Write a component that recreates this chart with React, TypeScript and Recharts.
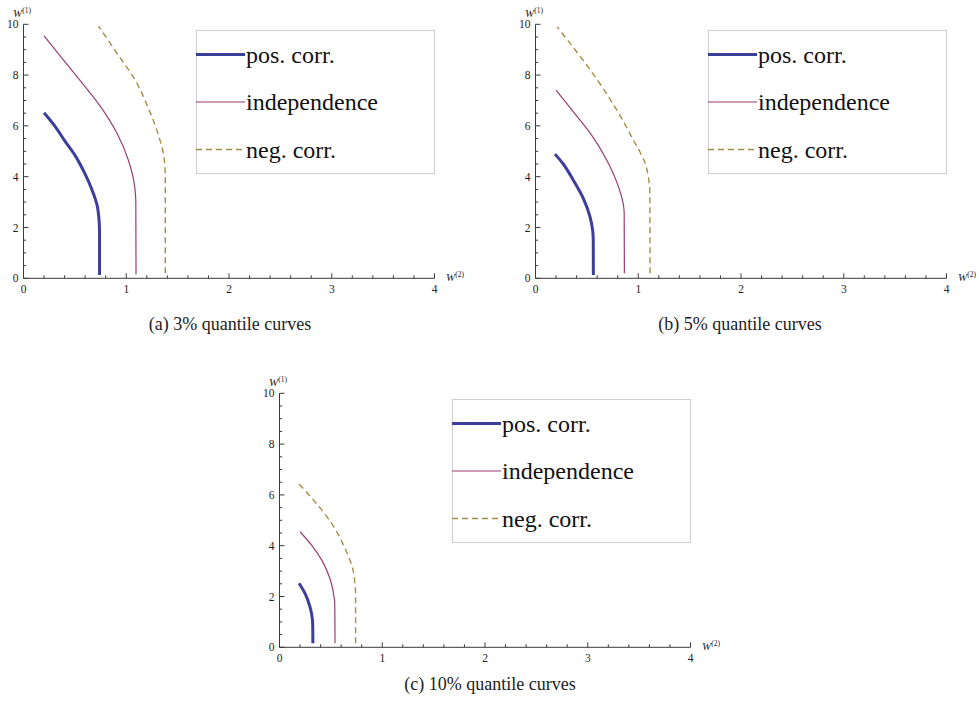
import { LineChart, Line, XAxis, YAxis, Legend } from 'recharts'

// values, ordered from the bottom of each curve upwards
const posA = [
  { x: 0.74, y: 0.13 }, { x: 0.74, y: 1.8 }, { x: 0.735, y: 2.3 }, { x: 0.715, y: 2.9 },
  { x: 0.67, y: 3.45 }, { x: 0.6, y: 4.1 }, { x: 0.5, y: 4.85 }, { x: 0.4, y: 5.42 },
  { x: 0.3, y: 6.02 }, { x: 0.2, y: 6.52 },
]
const indA = [
  { x: 1.095, y: 0.15 }, { x: 1.093, y: 3.0 }, { x: 1.085, y: 3.5 }, { x: 1.065, y: 4.0 },
  { x: 1.02, y: 4.66 }, { x: 0.91, y: 5.71 }, { x: 0.75, y: 6.76 }, { x: 0.52, y: 7.94 },
  { x: 0.36, y: 8.74 }, { x: 0.2, y: 9.54 },
]
const negA = [
  { x: 1.38, y: 0.2 }, { x: 1.38, y: 4.0 }, { x: 1.376, y: 4.4 }, { x: 1.367, y: 4.78 },
  { x: 1.313, y: 5.64 }, { x: 1.216, y: 6.69 }, { x: 1.086, y: 7.81 }, { x: 0.908, y: 8.87 },
  { x: 0.73, y: 9.93 },
]

const posB = [
  { x: 0.563, y: 0.13 }, { x: 0.562, y: 1.5 }, { x: 0.556, y: 1.9 }, { x: 0.53, y: 2.43 },
  { x: 0.465, y: 3.15 }, { x: 0.367, y: 3.87 }, { x: 0.27, y: 4.5 }, { x: 0.19, y: 4.89 },
]
const indB = [
  { x: 0.865, y: 0.2 }, { x: 0.863, y: 2.6 }, { x: 0.855, y: 2.9 }, { x: 0.807, y: 3.61 },
  { x: 0.693, y: 4.66 }, { x: 0.546, y: 5.64 }, { x: 0.367, y: 6.56 }, { x: 0.2, y: 7.41 },
]
const negB = [
  { x: 1.115, y: 0.2 }, { x: 1.113, y: 3.4 }, { x: 1.105, y: 3.8 }, { x: 1.067, y: 4.53 },
  { x: 0.953, y: 5.44 }, { x: 0.79, y: 6.63 }, { x: 0.595, y: 7.85 }, { x: 0.4, y: 8.92 },
  { x: 0.21, y: 9.9 },
]

const posC = [
  { x: 0.325, y: 0.16 }, { x: 0.323, y: 0.9 }, { x: 0.319, y: 1.14 }, { x: 0.296, y: 1.6 },
  { x: 0.247, y: 2.13 }, { x: 0.19, y: 2.52 },
]
const indC = [
  { x: 0.54, y: 0.16 }, { x: 0.538, y: 1.7 }, { x: 0.533, y: 1.93 }, { x: 0.49, y: 2.72 },
  { x: 0.41, y: 3.44 }, { x: 0.31, y: 4.03 }, { x: 0.2, y: 4.55 },
]
const negC = [
  { x: 0.741, y: 0.16 }, { x: 0.74, y: 2.2 }, { x: 0.735, y: 2.45 }, { x: 0.719, y: 2.98 },
  { x: 0.637, y: 3.9 }, { x: 0.507, y: 4.88 }, { x: 0.345, y: 5.73 }, { x: 0.19, y: 6.43 },
]

const seriesNames = ['pos. corr.', 'independence', 'neg. corr.']
const seriesColors = ['#3d3d9c', '#9c3d72', '#a08f45']
const seriesWidths = [3, 1.2, 1.4]
const seriesDash = [undefined, undefined, '6 4']

const captions = ['(a) 3% quantile curves', '(b) 5% quantile curves', '(c) 10% quantile curves']

const xTicks = [0, 0.2, 0.4, 0.6, 0.8, 1, 1.2, 1.4, 1.6, 1.8, 2, 2.2, 2.4, 2.6, 2.8, 3, 3.2, 3.4, 3.6, 3.8, 4]
const yTicks = [0, 0.5, 1, 1.5, 2, 2.5, 3, 3.5, 4, 4.5, 5, 5.5, 6, 6.5, 7, 7.5, 8, 8.5, 9, 9.5, 10]
const majorX = [0, 1, 2, 3, 4]
const majorY = [0, 2, 4, 6, 8, 10]

const panels = [
  { caption: captions[0], lines: [posA, indA, negA] },
  { caption: captions[1], lines: [posB, indB, negB] },
  { caption: captions[2], lines: [posC, indC, negC] },
]

const AXIS = '#3a3a3a'
const FONT = '"Liberation Serif", "Times New Roman", serif'
const Y_GAP = 5
const X_GAP = 3

const YTick = (props: any) => {
  const { x, y, payload } = props
  const major = majorY.includes(payload.value)
  const ax = x + Y_GAP
  return (
    <g>
      <line x1={ax} x2={ax + (major ? 5 : 2.7)} y1={y} y2={y} stroke={AXIS} strokeWidth={1} />
      {major && (
        <text x={x} y={y} dy={4} textAnchor="end" fill="#222" style={{ fontFamily: FONT, fontSize: 11.5 }}>
          {payload.value}
        </text>
      )}
    </g>
  )
}

const XTick = (props: any) => {
  const { x, y, payload } = props
  const major = majorX.includes(payload.value)
  const ay = y - X_GAP
  return (
    <g>
      <line x1={x} x2={x} y1={ay} y2={ay - (major ? 5 : 3)} stroke={AXIS} strokeWidth={1} />
      {major && (
        <text x={x} y={y} dy={12} textAnchor="middle" fill="#222" style={{ fontFamily: FONT, fontSize: 11.5 }}>
          {payload.value}
        </text>
      )}
    </g>
  )
}

const axisName = (sup: string, dx: number, dy: number, fromEnd: boolean) => (props: any) => {
  const vb = props.viewBox || {}
  const x = vb.x + vb.width + dx
  const y = vb.y + (fromEnd ? vb.height : 0) + dy
  return (
    <text x={x} y={y} fill="#222" style={{ fontFamily: FONT }}>
      <tspan style={{ fontSize: 11, fontStyle: 'italic' }}>W</tspan>
      <tspan style={{ fontSize: 7.5 }} dy={-4}>{sup}</tspan>
    </text>
  )
}

const LegendBox = () => (
  <svg width={240} height={145} style={{ display: 'block' }}>
    <rect x={0.5} y={0.5} width={238} height={143} fill="#fff" stroke="#cfcfcf" />
    {seriesNames.map((name, i) => {
      const cy = 24.5 + i * 47.5
      return (
        <g key={name}>
          <line
            x1={0}
            x2={49}
            y1={cy}
            y2={cy}
            stroke={seriesColors[i]}
            strokeWidth={seriesWidths[i]}
            strokeDasharray={seriesDash[i]}
          />
          <text x={50} y={cy + 8} fill="#111" style={{ fontFamily: FONT, fontSize: 24 }}>
            {name}
          </text>
        </g>
      )
    })}
  </svg>
)

function Panel({ lines }: { lines: { x: number; y: number }[][] }) {
  return (
    <LineChart width={470} height={300} margin={{ top: 24.3, left: 22.5, right: 35.5, bottom: 20.7 }}>
      <XAxis
        type="number"
        dataKey="x"
        domain={[0, 4]}
        ticks={xTicks}
        interval={0}
        height={1}
        tickSize={0}
        tickMargin={X_GAP}
        tickLine={false}
        tick={XTick}
        axisLine={{ stroke: AXIS, strokeWidth: 1 }}
        label={axisName('(2)', 11.5, 2, true)}
      />
      <YAxis
        type="number"
        domain={[0, 10]}
        ticks={yTicks}
        interval={0}
        width={1}
        tickSize={0}
        tickMargin={Y_GAP}
        tickLine={false}
        tick={YTick}
        axisLine={{ stroke: AXIS, strokeWidth: 1 }}
        label={axisName('(1)', -10.5, -7, false)}
      />
      <Legend
        layout="horizontal"
        align="center"
        verticalAlign="middle"
        content={LegendBox}
        wrapperStyle={{ left: 196, top: 30, width: 240, height: 145 }}
      />
      {lines.map((data, i) => (
        <Line
          key={seriesNames[i]}
          data={data}
          dataKey="y"
          name={seriesNames[i]}
          type="monotoneY"
          stroke={seriesColors[i]}
          strokeWidth={seriesWidths[i]}
          strokeDasharray={seriesDash[i]}
          dot={false}
          activeDot={false}
          isAnimationActive={false}
        />
      ))}
    </LineChart>
  )
}

const spots = [
  { left: 0, top: 0, capX: 230, capY: 314 },
  { left: 512, top: 0, capX: 740, capY: 314 },
  { left: 256, top: 369, capX: 490, capY: 674 },
]

export default function App() {
  return (
    <div
      style={{
        position: 'absolute',
        left: 0,
        top: 0,
        width: 979,
        height: 715,
        overflow: 'hidden',
        background: '#fff',
      }}
    >
      {panels.map((p, i) => (
        <div key={p.caption}>
          <div style={{ position: 'absolute', left: spots[i].left, top: spots[i].top }}>
            <Panel lines={p.lines} />
          </div>
          <div
            style={{
              position: 'absolute',
              left: spots[i].capX - 150,
              top: spots[i].capY,
              width: 300,
              textAlign: 'center',
              fontFamily: FONT,
              fontSize: 18,
              lineHeight: '20px',
              color: '#222',
            }}
          >
            {p.caption}
          </div>
        </div>
      ))}
    </div>
  )
}
